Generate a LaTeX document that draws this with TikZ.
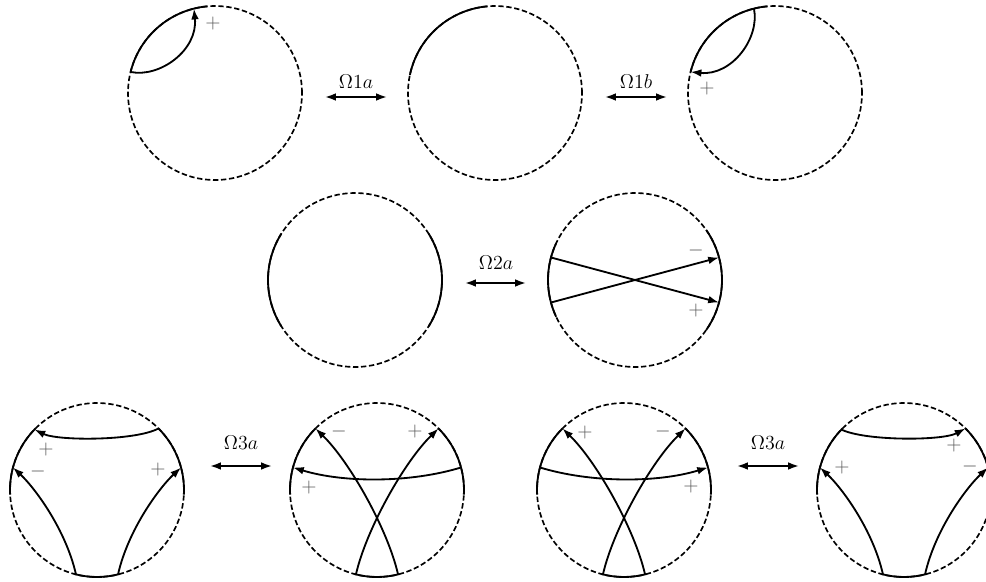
\documentclass[tikz,border=0pt]{standalone}
\usetikzlibrary{arrows.meta}
\newcommand\solidarc[3]{\draw[bnd] (#1.center) ++(#2:52.2pt) arc[start angle=#2,end angle=#3,radius=52.2pt];}
\begin{document}
\begin{tikzpicture}[x=0.6pt,y=-0.6pt,
 circ/.style={circle, draw, line width=1pt, dash pattern=on 3.2pt off 1.6pt, minimum size=104.4pt, inner sep=0pt, outer sep=0pt},
 bnd/.style={line width=1.1pt},
 arr/.style={line width=1.1pt, -{Latex[length=6.5pt,width=4.6pt]}},
 dbl/.style={line width=1.1pt, {Latex[length=6.5pt,width=4.6pt]}-{Latex[length=6.5pt,width=4.6pt]}},
 sgn/.style={text=black!65, inner sep=0pt, font=\fontsize{12}{14}\selectfont},
 lbl/.style={inner sep=0pt, font=\fontsize{11.5}{14}\selectfont}]
\useasboundingbox (0,0) rectangle (986,582);
% ---------- row 1
\node[circ] (c1) at (215,93) {};
\solidarc{c1}{95}{166}
\draw[arr] (c1.166) .. controls (160,78) and (198,50) .. (c1.104);
\node[sgn] (s1) at (213,23) {$+$};

\node[circ] (c2) at (495,93) {};
\solidarc{c2}{95}{168}

\node[circ] (c3) at (775,93) {};
\solidarc{c3}{95}{166}
\draw[arr] (c3.104) .. controls (760,38) and (732,76) .. (c3.166);
\node[sgn] (s2) at (707,88) {$+$};

\coordinate (a1l) at (325,97); \coordinate (a1r) at (387,97);
\draw[dbl] (a1l) -- (a1r);
\node[lbl] (t1) at (356,82) {$\Omega1a$};
\coordinate (a2l) at (605,97); \coordinate (a2r) at (667,97);
\draw[dbl] (a2l) -- (a2r);
\node[lbl] (t2) at (636,82) {$\Omega1b$};

% ---------- row 2
\node[circ] (c4) at (355,280) {};
\solidarc{c4}{148}{212}
\solidarc{c4}{-32}{32}

\node[circ] (c5) at (635,280) {};
\solidarc{c5}{155}{205}
\solidarc{c5}{-35}{35}
\draw[arr] (c5.165) -- (c5.345);
\draw[arr] (c5.195) -- (c5.15);
\node[sgn] (s3) at (696,250) {$-$};
\node[sgn] (s4) at (696,310) {$+$};

\coordinate (a3l) at (465,283); \coordinate (a3r) at (526,283);
\draw[dbl] (a3l) -- (a3r);
\node[lbl] (t3) at (496,263) {$\Omega2a$};

% ---------- row 3
\foreach \c/\p in {c6/97, c7/377, c8/624, c9/904}{
  \node[circ] (\c) at (\p,490) {};
  \solidarc{\c}{135}{183}
  \solidarc{\c}{-3}{45}
  \solidarc{\c}{255}{285}
}
% c6
\draw[arr] (c6.45) .. controls (135,441) and (58,441) .. (c6.136);
\draw[arr] (c6.256) .. controls (66,530) and (35,488) .. (c6.165);
\draw[arr] (c6.284) .. controls (128,530) and (159,488) .. (c6.15);
\node[sgn] (s5) at (46,449) {$+$};
\node[sgn] (s6) at (38,471) {$-$};
\node[sgn] (s7) at (158,469) {$+$};
% c7
\draw[arr] (c7.15) .. controls (410,483) and (344,483) .. (c7.165);
\draw[arr] (c7.284) .. controls (388,530) and (350,462) .. (c7.135);
\draw[arr] (c7.256) .. controls (366,530) and (404,462) .. (c7.45);
\node[sgn] (s8) at (339,431) {$-$};
\node[sgn] (s9) at (415,431) {$+$};
\node[sgn] (s10) at (309,487) {$+$};
% c8
\draw[arr] (c8.165) .. controls (591,483) and (657,483) .. (c8.15);
\draw[arr] (c8.284) .. controls (635,530) and (597,462) .. (c8.135);
\draw[arr] (c8.256) .. controls (613,530) and (651,462) .. (c8.45);
\node[sgn] (s11) at (585,432) {$+$};
\node[sgn] (s12) at (663,431) {$-$};
\node[sgn] (s13) at (691,486) {$+$};
% c9
\draw[arr] (c9.136) .. controls (865,441) and (942,441) .. (c9.45);
\draw[arr] (c9.256) .. controls (873,530) and (842,488) .. (c9.165);
\draw[arr] (c9.284) .. controls (935,530) and (966,488) .. (c9.15);
\node[sgn] (s14) at (954,445) {$+$};
\node[sgn] (s15) at (842,467) {$+$};
\node[sgn] (s16) at (970,466) {$-$};

\coordinate (a4l) at (210,466); \coordinate (a4r) at (272,466);
\draw[dbl] (a4l) -- (a4r);
\node[lbl] (t4) at (241,443) {$\Omega3a$};
\coordinate (a5l) at (737,466); \coordinate (a5r) at (799,466);
\draw[dbl] (a5l) -- (a5r);
\node[lbl] (t5) at (768,443) {$\Omega3a$};
\end{tikzpicture}
\end{document}
